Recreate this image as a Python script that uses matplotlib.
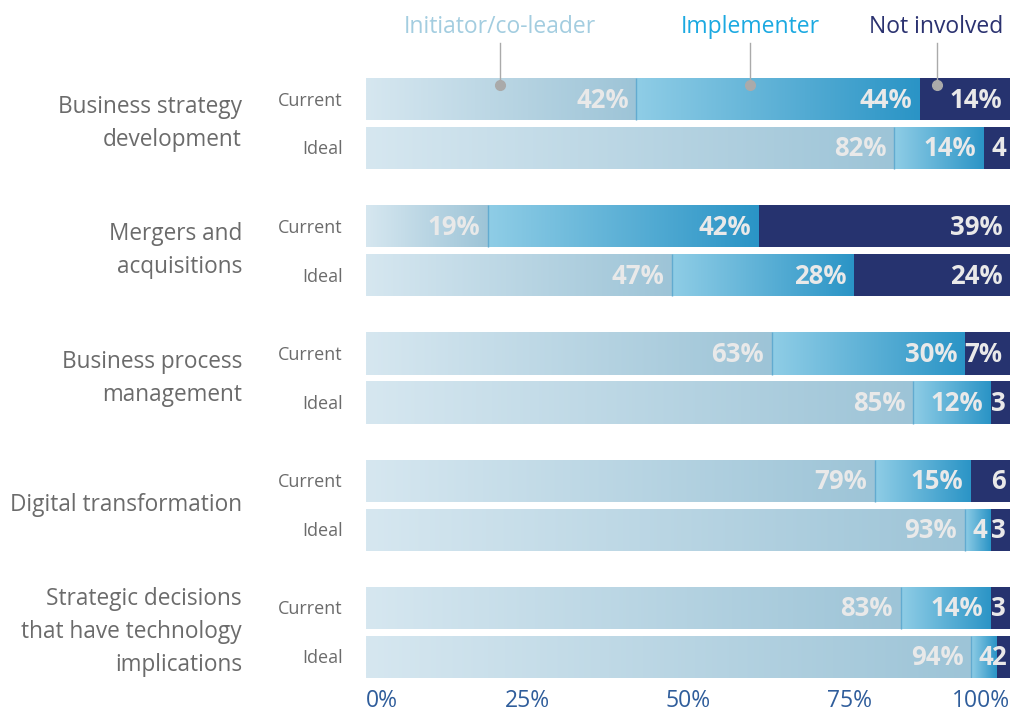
import numpy as np
import matplotlib.pyplot as plt
from matplotlib.colors import LinearSegmentedColormap

plt.rcParams['font.family'] = ['Open Sans', 'DejaVu Sans']

# data
categories = ["Business strategy\ndevelopment", "Mergers and\nacquisitions",
              "Business process\nmanagement", "Digital transformation",
              "Strategic decisions\nthat have technology\nimplications"]
rows = ["Current", "Ideal"]
series = ["Initiator/co-leader", "Implementer", "Not involved"]

initiator_current = [42, 19, 63, 79, 83]
initiator_ideal = [82, 47, 85, 93, 94]
implementer_current = [44, 42, 30, 15, 14]
implementer_ideal = [14, 28, 12, 4, 4]
not_involved_current = [14, 39, 7, 6, 3]
not_involved_ideal = [4, 24, 3, 3, 2]

tick_vals = [0, 25, 50, 75, 100]
tick_labels = ["0%", "25%", "50%", "75%", "100%"]

# styling
grad_init = LinearSegmentedColormap.from_list("init", ["#d6e7f0", "#9dc4d7"])
grad_impl = LinearSegmentedColormap.from_list("impl", ["#8fcde6", "#2a94c6"])
navy = "#26336f"
legend_colors = ["#a3cde0", "#1ba9e1", "#2b3270"]
legend_x = [20.8, 59.6, 88.6]
grey = "#6b6b6b"
val_color = "#e9e9e9"

fig = plt.figure(figsize=(10.11, 7.17), dpi=100)
ax = fig.add_axes([366 / 1011, 39 / 717, 644 / 1011, 600 / 717])

gap = 2.6
bh = 0.86
grad = np.linspace(0, 1, 256).reshape(1, -1)

data = {
    "Current": [initiator_current, implementer_current, not_involved_current],
    "Ideal": [initiator_ideal, implementer_ideal, not_involved_ideal],
}

for g, cat in enumerate(categories):
    for r, row in enumerate(rows):
        y = g * gap + r
        total = sum(v[g] for v in data[row])
        left = 0
        for s, vals in enumerate(data[row]):
            v = vals[g]
            w = v / total * 100  # 100% stacked
            if s == 2:
                ax.barh(y, w, left=left, height=bh, color=navy, lw=0, zorder=2)
            else:
                bar = ax.barh(y, w, left=left, height=bh, color="none", lw=0)[0]
                im = ax.imshow(grad, cmap=grad_init if s == 0 else grad_impl,
                               extent=(left, left + w, y + bh / 2, y - bh / 2),
                               aspect="auto", zorder=2, interpolation="bilinear")
                im.set_clip_path(bar)
            lab = f"{v}%" if v >= 7 else f"{v}"
            pad = 1.2 if v >= 7 else 0.6
            ax.text(left + w - pad, y + 0.02, lab, ha="right", va="center",
                    color=val_color, fontsize=18.5, fontweight="bold", zorder=4)
            left += w
            if s == 0:
                ax.vlines(left, y - bh / 2, y + bh / 2, color="#62abd0", lw=1, zorder=3)
        ax.text(-0.036, y + 0.03, row, transform=ax.get_yaxis_transform(),
                ha="right", va="center", fontsize=13, color=grey)
    ax.text(-0.1925, g * gap + 0.5, cat, transform=ax.get_yaxis_transform(),
            ha="right", va="center", fontsize=16.3, color=grey, linespacing=1.5)

# legend labels with leader lines
for name, col, x in zip(series, legend_colors, legend_x):
    ax.text(x, -1.47, name, ha="center", va="center", fontsize=16.5, color=col, clip_on=False)
    ax.plot([x, x], [-1.15, -0.29], color="#aaaaaa", lw=1, clip_on=False, zorder=5)
    ax.plot(x, -0.29, "o", ms=7, color="#aaaaaa", clip_on=False, zorder=5)

ax.set_xlim(0, 100)
ax.set_ylim(4 * gap + 1 + bh / 2, -bh / 2)
ax.set_xticks(tick_vals)
ax.set_xticklabels(tick_labels)
ax.tick_params(axis="x", length=0, pad=8, labelsize=16.5, labelcolor="#2f5d9b")
xt = ax.get_xticklabels()
xt[0].set_ha("left")
xt[-1].set_ha("right")
ax.set_yticks([])
for sp in ax.spines.values():
    sp.set_visible(False)

fig.savefig("out.png", dpi=100)
